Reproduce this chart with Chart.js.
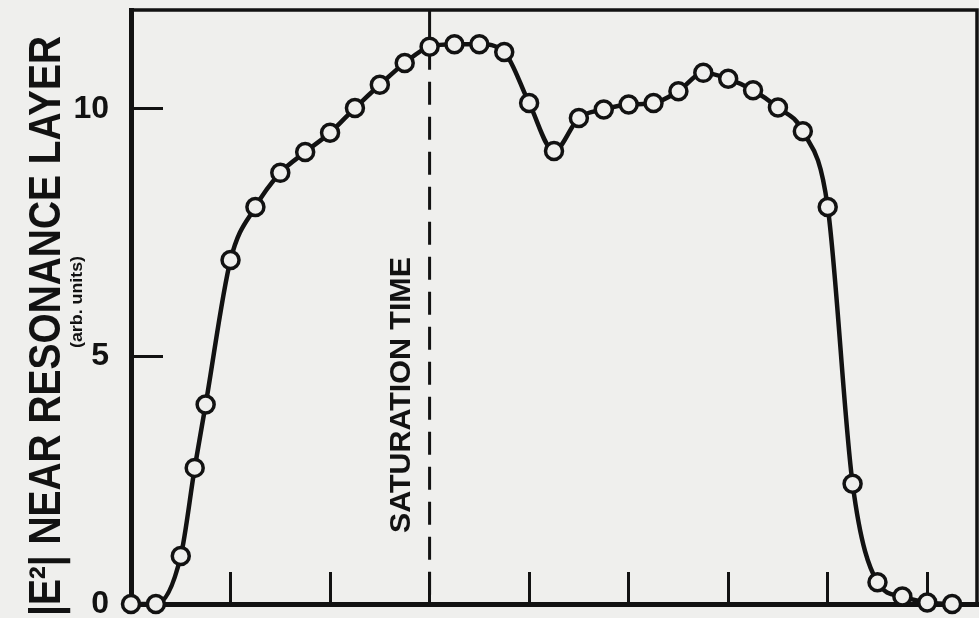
<!DOCTYPE html>
<html lang="en">

<head>
    <meta charset="UTF-8">
    <title>|E²| near resonance layer</title>
    <script src="https://cdn.jsdelivr.net/npm/chart.js"></script>
    <style>
        html, body { margin: 0; padding: 0; background: #efefed; }
        canvas { display: block; }
    </style>
</head>

<body>
    <canvas id="fieldChart" width="979" height="618"></canvas>

    <script>
        // Time axis positions of the measured points
        const timeValues = [0, 0.25, 0.5, 0.64, 0.75, 1.0, 1.25, 1.5, 1.75, 2.0, 2.25, 2.5, 2.75,
            3.0, 3.25, 3.5, 3.75, 4.0, 4.25, 4.5, 4.75, 5.0, 5.25, 5.5, 5.75, 6.0, 6.25, 6.5,
            6.75, 7.0, 7.25, 7.5, 7.75, 8.0, 8.25];
        // |E^2| near the resonance layer (arb. units)
        const fieldValues = [0, 0, 0.97, 2.75, 4.03, 6.95, 8.02, 8.71, 9.13, 9.52, 10.02, 10.49, 10.93,
            11.26, 11.31, 11.31, 11.15, 10.12, 9.15, 9.82, 9.99, 10.09, 10.12, 10.36, 10.73, 10.61,
            10.38, 10.03, 9.55, 8.02, 2.43, 0.44, 0.15, 0.03, 0];
        const yTickValues = [0, 5, 10];
        const xTickValues = [1, 2, 3, 4, 5, 6, 7, 8];
        const saturationTime = 3.0;
        const saturationLevel = 11.26;

        const yTitle = '|E\u00B2| NEAR RESONANCE LAYER';
        const yUnits = '(arb. units)';
        const markerLabel = 'SATURATION TIME';

        const ink = '#121212';
        const paper = '#efefed';
        const font = '"Liberation Sans", Arial, sans-serif';

        // rotated text squeezed to a given length
        function drawVertical(ctx, text, cx, cy, length, size) {
            ctx.save();
            ctx.translate(cx, cy);
            ctx.rotate(-Math.PI / 2);
            ctx.font = 'bold ' + size + 'px ' + font;
            const w = ctx.measureText(text).width;
            ctx.scale(length / w, 1);
            ctx.fillStyle = ink;
            ctx.textAlign = 'center';
            ctx.textBaseline = 'middle';
            ctx.fillText(text, 0, 0);
            ctx.restore();
        }

        // no extra room around the plot for the edge tick labels
        function noPadding(scale) {
            scale.paddingTop = 0;
            scale.paddingBottom = 0;
            scale.paddingLeft = 0;
            scale.paddingRight = 0;
        }

        const framePlugin = {
            id: 'frame',
            beforeDatasetsDraw(chart) {
                const { ctx, chartArea: a } = chart;
                ctx.save();
                ctx.strokeStyle = ink;
                ctx.lineWidth = 3.5;
                ctx.beginPath();
                ctx.moveTo(a.left, a.top);
                ctx.lineTo(a.right, a.top);
                ctx.lineTo(a.right, a.bottom);
                ctx.stroke();
                ctx.restore();
            },
            afterDraw(chart) {
                const { ctx } = chart;
                const x = chart.scales.x;
                drawVertical(ctx, yTitle, 48, 326, 580, 44);
                drawVertical(ctx, yUnits, 78, 302, 92, 16);
                drawVertical(ctx, markerLabel, x.getPixelForValue(saturationTime) - 28, 395, 276, 29);
            }
        };

        const ctx = document.getElementById('fieldChart').getContext('2d');

        new Chart(ctx, {
            type: 'line',
            data: {
                datasets: [{
                    data: timeValues.map((t, i) => ({ x: t, y: fieldValues[i] })),
                    borderColor: ink,
                    borderWidth: 4.5,
                    cubicInterpolationMode: 'monotone',
                    pointRadius: 8.5,
                    pointBorderWidth: 3.5,
                    pointBorderColor: ink,
                    pointBackgroundColor: paper,
                    clip: false,
                    order: 0
                }, {
                    // solid part of the saturation marker above the peak
                    data: [{ x: saturationTime, y: 12 }, { x: saturationTime, y: saturationLevel }],
                    borderColor: ink,
                    borderWidth: 3,
                    pointRadius: 0,
                    order: 1
                }, {
                    data: [{ x: saturationTime, y: saturationLevel }, { x: saturationTime, y: 0 }],
                    borderColor: ink,
                    borderWidth: 3,
                    borderDash: [23, 12],
                    pointRadius: 0,
                    order: 1
                }]
            },
            options: {
                responsive: false,
                animation: false,
                layout: { autoPadding: false, padding: { top: 10, right: 2, left: 0, bottom: 0 } },
                plugins: {
                    legend: { display: false },
                    tooltip: { enabled: false }
                },
                scales: {
                    x: {
                        type: 'linear',
                        min: 0,
                        max: 8.5,
                        afterFit(scale) { scale.height = 14; noPadding(scale); },
                        ticks: { display: false, stepSize: 1 },
                        grid: {
                            drawOnChartArea: false,
                            drawTicks: true,
                            tickLength: -32,
                            lineWidth: 3,
                            color: c => (c.tick && xTickValues.includes(c.tick.value)) ? ink : 'rgba(0,0,0,0)'
                        },
                        border: { display: true, width: 5, color: ink }
                    },
                    y: {
                        min: 0,
                        max: 12,
                        afterFit(scale) { scale.width = 131; noPadding(scale); },
                        ticks: {
                            stepSize: 5,
                            padding: 54,
                            color: ink,
                            font: { family: font, size: 32, weight: 'bold' },
                            callback: v => yTickValues.includes(v) ? String(v) : ''
                        },
                        grid: {
                            drawOnChartArea: false,
                            drawTicks: true,
                            tickLength: -32,
                            lineWidth: 3,
                            color: c => (c.tick && c.tick.value > 0 && yTickValues.includes(c.tick.value)) ? ink : 'rgba(0,0,0,0)'
                        },
                        border: { display: true, width: 5, color: ink }
                    }
                }
            },
            plugins: [framePlugin]
        });
    </script>
</body>

</html>
